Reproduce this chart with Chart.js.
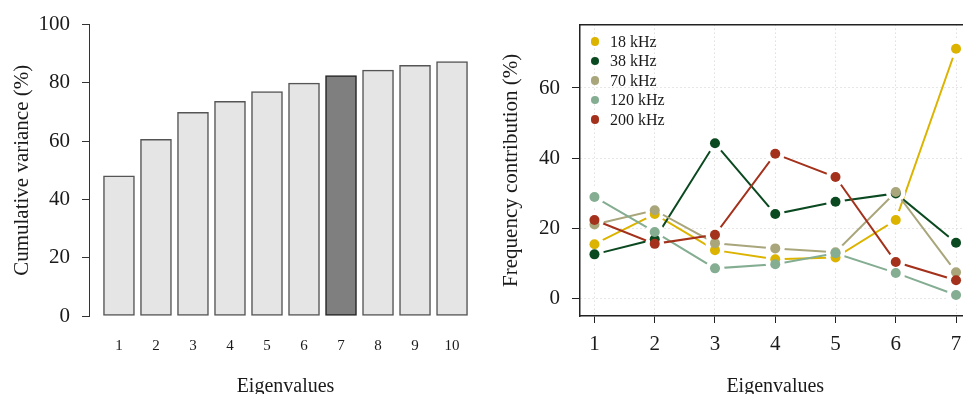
<!DOCTYPE html>
<html>
<head>
<meta charset="utf-8">
<script src="https://cdn.jsdelivr.net/npm/chart.js@4.4.1/dist/chart.umd.min.js"></script>
<style>
  html, body { margin: 0; padding: 0; background: #fff; }
  body { width: 963px; height: 394px; overflow: hidden; position: relative; font-family: 'Liberation Serif', 'DejaVu Serif', serif; }
  #left { position: absolute; left: 0; top: 0; }
  #right { position: absolute; left: 480px; top: 0; }
  #legend { position: absolute; left: 590.7px; top: 32px; font-size: 16px; color: #1a1a1a; }
  #legend div { height: 19.4px; line-height: 19.4px; position: relative; padding-left: 19.3px; white-space: nowrap; }
  #legend span { position: absolute; left: 0; top: 5.4px; width: 8.6px; height: 8.6px; border-radius: 50%; }
</style>
</head>
<body>
<canvas id="left" width="482" height="394"></canvas>
<canvas id="right" width="500" height="394"></canvas>
<div id="legend"></div>
<script>
// left panel: cumulative variance per eigenvalue
const eigenvalues = [1, 2, 3, 4, 5, 6, 7, 8, 9, 10];
const cumulativeVariance = [48.1, 60.6, 69.9, 73.7, 77.0, 79.9, 82.5, 84.4, 86.0, 87.3];
const selectedEigen = 7;
const leftYTicks = [0, 20, 40, 60, 80, 100];

// right panel: contribution of each frequency
const components = [1, 2, 3, 4, 5, 6, 7];
const freqLabels = ['18 kHz', '38 kHz', '70 kHz', '120 kHz', '200 kHz'];
const freq18 = [15.4, 24.0, 13.7, 11.1, 11.6, 22.3, 71.2];
const freq38 = [12.5, 16.8, 44.2, 24.0, 27.5, 29.9, 15.8];
const freq70 = [21.0, 25.1, 15.7, 14.2, 13.1, 30.3, 7.4];
const freq120 = [28.9, 18.9, 8.5, 9.7, 12.8, 7.2, 0.9];
const freq200 = [22.3, 15.5, 18.1, 41.2, 34.6, 10.3, 5.1];
const freqColors = ['#dcb400', '#0b4a21', '#a9a67b', '#84ad92', '#a3311b'];
const rightYTicks = [0, 20, 40, 60];

const serif = "'Liberation Serif', 'DejaVu Serif', serif";
const ink = '#1a1a1a';

const fixTicks = (list) => (scale) => { scale.ticks = list.map(v => ({ value: v })); };

new Chart(document.getElementById('left'), {
    type: 'bar',
    data: {
        datasets: [{
            data: eigenvalues.map((e, i) => ({ x: e, y: cumulativeVariance[i] })),
            backgroundColor: eigenvalues.map(e => e === selectedEigen ? '#7f7f7f' : '#e5e5e5'),
            borderColor: eigenvalues.map(e => e === selectedEigen ? '#222' : '#555'),
            borderWidth: 1.5,
            borderSkipped: false,
            barThickness: 31
        }]
    },
    options: {
        responsive: false,
        animation: false,
        events: [],
        layout: { padding: { top: 19.5, right: 0, bottom: 0, left: 0 } },
        plugins: { legend: { display: false }, tooltip: { enabled: false } },
        scales: {
            x: {
                type: 'linear',
                offset: false,
                min: 0.19,
                max: 10.81,
                afterBuildTicks: fixTicks(eigenvalues),
                afterFit: (s) => { s.height = 78; },
                grid: { display: false, drawTicks: false },
                border: { display: false },
                ticks: { color: ink, font: { family: serif, size: 15 }, padding: 21, maxRotation: 0 },
                title: { display: true, text: 'Eigenvalues', color: ink, font: { family: serif, size: 20, lineHeight: 0.7 }, padding: 0 }
            },
            y: {
                min: 0,
                max: 100,
                afterBuildTicks: fixTicks(leftYTicks),
                afterFit: (s) => { s.width = 89; },
                grid: { drawOnChartArea: false, drawTicks: true, tickLength: 7, tickColor: '#333', tickWidth: 1 },
                border: { display: true, color: '#333', width: 1 },
                ticks: { color: ink, font: { family: serif, size: 21 }, padding: 12 },
                title: { display: true, text: 'Cumulative variance (%)', color: ink, font: { family: serif, size: 21, lineHeight: 1.2 }, padding: { top: 10, bottom: 0 } }
            }
        }
    }
});

const series = [freq18, freq38, freq70, freq120, freq200];
const toPoints = (vals) => components.map((c, j) => ({ x: c, y: vals[j] }));

// lines first (white disks leave gaps round the points), points on top
const lineSets = series.map((vals, i) => ({
    label: freqLabels[i],
    data: toPoints(vals),
    borderColor: freqColors[i],
    borderWidth: 2,
    pointRadius: 9.5,
    pointBackgroundColor: '#fff',
    pointBorderWidth: 0,
    order: 20 - i
}));
const pointSets = series.map((vals, i) => ({
    label: freqLabels[i],
    data: toPoints(vals),
    showLine: false,
    pointRadius: 5,
    pointBackgroundColor: freqColors[i],
    pointBorderWidth: 0,
    order: 10 - i
}));

new Chart(document.getElementById('right'), {
    type: 'line',
    data: { datasets: lineSets.concat(pointSets) },
    options: {
        responsive: false,
        animation: false,
        events: [],
        layout: { padding: { top: 20.5, right: 7.5, bottom: 0, left: 0 } },
        plugins: { legend: { display: false }, tooltip: { enabled: false } },
        scales: {
            x: {
                type: 'linear',
                min: 0.76,
                max: 7.24,
                afterBuildTicks: fixTicks(components),
                afterFit: (s) => { s.height = 78; },
                grid: { color: '#cfcfcf', lineWidth: 1, drawTicks: true, tickLength: 7, tickColor: '#222', tickWidth: 1 },
                border: { display: true, color: '#222', width: 1.5, dash: [1, 3] },
                ticks: { color: ink, font: { family: serif, size: 21 }, padding: 9, maxRotation: 0 },
                title: { display: true, text: 'Eigenvalues', color: ink, font: { family: serif, size: 20, lineHeight: 0.7 }, padding: 0 }
            },
            xTop: {
                type: 'linear',
                position: 'top',
                min: 0.76,
                max: 7.24,
                afterFit: (s) => { s.height = 0; },
                grid: { display: false },
                border: { display: true, color: '#222', width: 1.5 },
                ticks: { display: false }
            },
            y: {
                min: -5.1,
                max: 78.1,
                afterBuildTicks: fixTicks(rightYTicks),
                afterFit: (s) => { s.width = 100; },
                grid: { color: '#cfcfcf', lineWidth: 1, drawTicks: true, tickLength: 8, tickColor: '#222', tickWidth: 1 },
                border: { display: true, color: '#222', width: 1.5, dash: [1, 3] },
                ticks: { color: ink, font: { family: serif, size: 21 }, padding: 12 },
                title: { display: true, text: 'Frequency contribution (%)', color: ink, font: { family: serif, size: 21, lineHeight: 1.2 }, padding: { top: 19, bottom: 0 } }
            }
        }
    }
});

// legend, built from the same labels and colours
const legend = document.getElementById('legend');
freqLabels.forEach((lab, i) => {
    const row = document.createElement('div');
    const dot = document.createElement('span');
    dot.style.background = freqColors[i];
    row.appendChild(dot);
    row.appendChild(document.createTextNode(lab));
    legend.appendChild(row);
});
</script>
</body>
</html>
